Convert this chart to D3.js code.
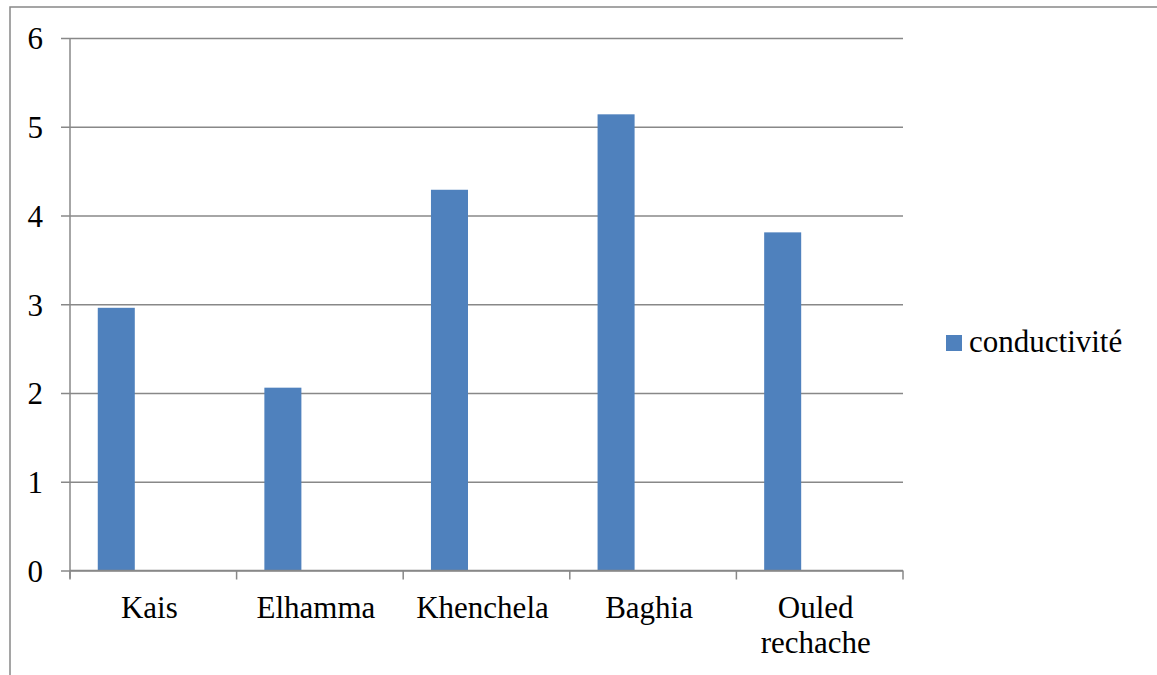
<!DOCTYPE html>
<html>
<head>
<meta charset="utf-8">
<script src="https://cdn.jsdelivr.net/npm/d3@7"></script>
<style>
  html, body { margin: 0; padding: 0; background: #fff; }
  svg { display: block; }
  svg text { font-family: "Liberation Serif", "Times New Roman", Times, "DejaVu Serif", serif !important; fill: #000; }
</style>
</head>
<body>
<svg id="chart" width="1157" height="675"></svg>
<script>
// Data
const categories = ["Kais", "Elhamma", "Khenchela", "Baghia", "Ouled rechache"];
const conductivite = [2.96, 2.06, 4.29, 5.14, 3.81];
const yTicks = [0, 1, 2, 3, 4, 5, 6];
const seriesName = "conductivité";

const W = 1157, H = 675;
const plot = { left: 70, right: 903, top: 38, bottom: 570.5 };
const gridColor = "#888888";
const barColor = "#4F81BD";
const fontSize = 31;

const svg = d3.select("#chart");

// Outer chart frame (extends past the right/bottom edges)
svg.append("rect")
  .attr("x", 10).attr("y", 7)
  .attr("width", W + 20).attr("height", H + 20)
  .attr("fill", "#fff")
  .attr("stroke", gridColor)
  .attr("stroke-width", 1.5);

const x = d3.scaleBand().domain(categories).range([plot.left, plot.right]).padding(0);
const y = d3.scaleLinear().domain([0, 6]).range([plot.bottom, plot.top]);

// Horizontal gridlines with left tick marks
const yAxis = d3.axisLeft(y).tickValues(yTicks).tickFormat(d3.format("d"))
  .tickSize(-(plot.right - plot.left)).tickPadding(27);
const gy = svg.append("g").attr("transform", `translate(${plot.left},0)`).call(yAxis);
gy.attr("font-family", null).attr("font-size", null);
gy.select(".domain").remove();
gy.selectAll(".tick line")
  .attr("x1", -9)
  .attr("stroke", gridColor).attr("stroke-width", 1.5);
gy.selectAll(".tick text")
  .attr("font-size", fontSize)
  .attr("dy", "0.35em");

// Vertical axis line
svg.append("line")
  .attr("x1", plot.left).attr("x2", plot.left)
  .attr("y1", plot.top).attr("y2", plot.bottom + 8)
  .attr("stroke", gridColor).attr("stroke-width", 1.5);

// Bars: one series slot of three per category (gap width 150%)
const slot = x.bandwidth() / 4.5;
svg.append("g").selectAll("rect")
  .data(categories.map((c, i) => ({ c, v: conductivite[i] })))
  .join("rect")
  .attr("x", d => x(d.c) + slot * 0.75)
  .attr("width", slot)
  .attr("y", d => y(d.v))
  .attr("height", d => y(0) - y(d.v))
  .attr("fill", barColor);

// Category axis
svg.append("line")
  .attr("x1", plot.left).attr("x2", plot.right)
  .attr("y1", y(0)).attr("y2", y(0))
  .attr("stroke", gridColor).attr("stroke-width", 1.5);

const boundaries = categories.map(c => x(c)).concat([plot.right]);
svg.append("g").selectAll("line")
  .data(boundaries)
  .join("line")
  .attr("x1", d => d).attr("x2", d => d)
  .attr("y1", y(0)).attr("y2", y(0) + 9)
  .attr("stroke", gridColor).attr("stroke-width", 1.5);

// Category labels (wrapped onto two lines where needed)
const labelG = svg.append("g");
categories.forEach(c => {
  const words = c.split(" ");
  const cx = x(c) + x.bandwidth() / 2 - 4;
  const t = labelG.append("text")
    .attr("text-anchor", "middle")
    .attr("font-size", fontSize)
    .attr("x", cx)
    .attr("y", 618);
  words.forEach((w, i) => {
    t.append("tspan")
      .attr("x", cx)
      .attr("dy", i === 0 ? 0 : 35)
      .text(w);
  });
});

// Legend
const legend = svg.append("g").attr("transform", "translate(946,335)");
legend.append("rect").attr("width", 16).attr("height", 16).attr("fill", barColor);
legend.append("text").attr("x", 23).attr("y", 17)
  .attr("font-size", fontSize).text(seriesName);
</script>
</body>
</html>
